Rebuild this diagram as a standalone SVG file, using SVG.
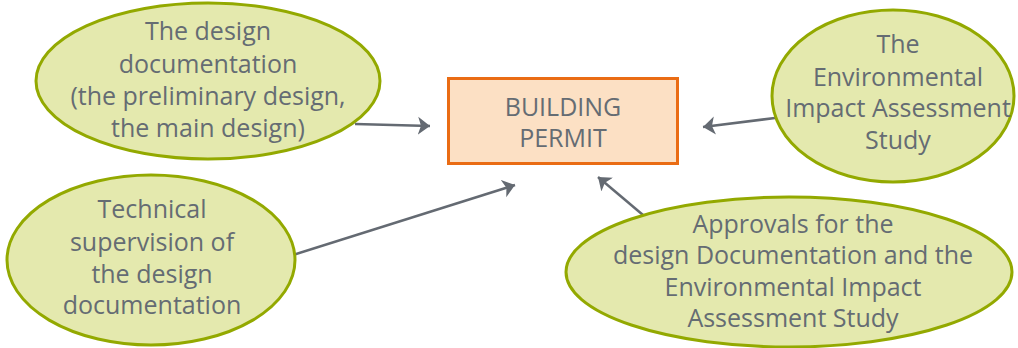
<svg xmlns="http://www.w3.org/2000/svg" width="1018" height="348" viewBox="0 0 1018 348">
<style>
.bubble{fill:#e4e9ae;stroke:#93a900;stroke-width:3}
.box{fill:#fce0c4;stroke:#ea6c14;stroke-width:3}
.t{font-family:"Open Sans","Noto Sans","DejaVu Sans",sans-serif;font-size:25px;fill:#656c73;text-anchor:middle}
.c{stroke:#646a72;stroke-width:2.5;fill:none;marker-end:url(#ah)}
</style>
<defs>
<marker id="ah" markerUnits="userSpaceOnUse" markerWidth="14" markerHeight="20" viewBox="0 0 14 20" refX="12" refY="10" orient="auto">
<path d="M0,1 L12,10 L0,19 L3,10 Z" fill="#646a72"/>
</marker>
</defs>
<rect width="1018" height="348" fill="#ffffff"/>
<g id="connectors">
<line class="c" x1="355" y1="124" x2="430" y2="126"/>
<line class="c" x1="775" y1="118" x2="703" y2="127"/>
<line class="c" x1="293" y1="255" x2="515" y2="185"/>
<line class="c" x1="643" y1="215" x2="598" y2="177"/>
</g>
<g id="design-doc">
<ellipse class="bubble" cx="208" cy="81" rx="172" ry="78"/>
<text class="t" x="208" y="40">The design</text>
<text class="t" x="208" y="73">documentation</text>
<text class="t" x="208" y="105">(the preliminary design,</text>
<text class="t" x="208" y="137">the main design)</text>
</g>
<g id="building-permit">
<rect class="box" x="448.5" y="78.5" width="229" height="85"/>
<text class="t" x="563" y="116">BUILDING</text>
<text class="t" x="563" y="147">PERMIT</text>
</g>
<g id="eia-study">
<ellipse class="bubble" cx="893" cy="96" rx="121" ry="86"/>
<text class="t" x="898" y="53">The</text>
<text class="t" x="898" y="86">Environmental</text>
<text class="t" x="898" y="117">Impact Assessment</text>
<text class="t" x="898" y="149">Study</text>
</g>
<g id="technical-supervision">
<ellipse class="bubble" cx="151" cy="260" rx="144" ry="85"/>
<text class="t" x="152" y="218">Technical</text>
<text class="t" x="152" y="251">supervision of</text>
<text class="t" x="152" y="283">the design</text>
<text class="t" x="152" y="314">documentation</text>
</g>
<g id="approvals">
<ellipse class="bubble" cx="789" cy="272" rx="223" ry="75"/>
<text class="t" x="793" y="233">Approvals for the</text>
<text class="t" x="793" y="264">design Documentation and the</text>
<text class="t" x="793" y="296">Environmental Impact</text>
<text class="t" x="793" y="327">Assessment Study</text>
</g>
</svg>
